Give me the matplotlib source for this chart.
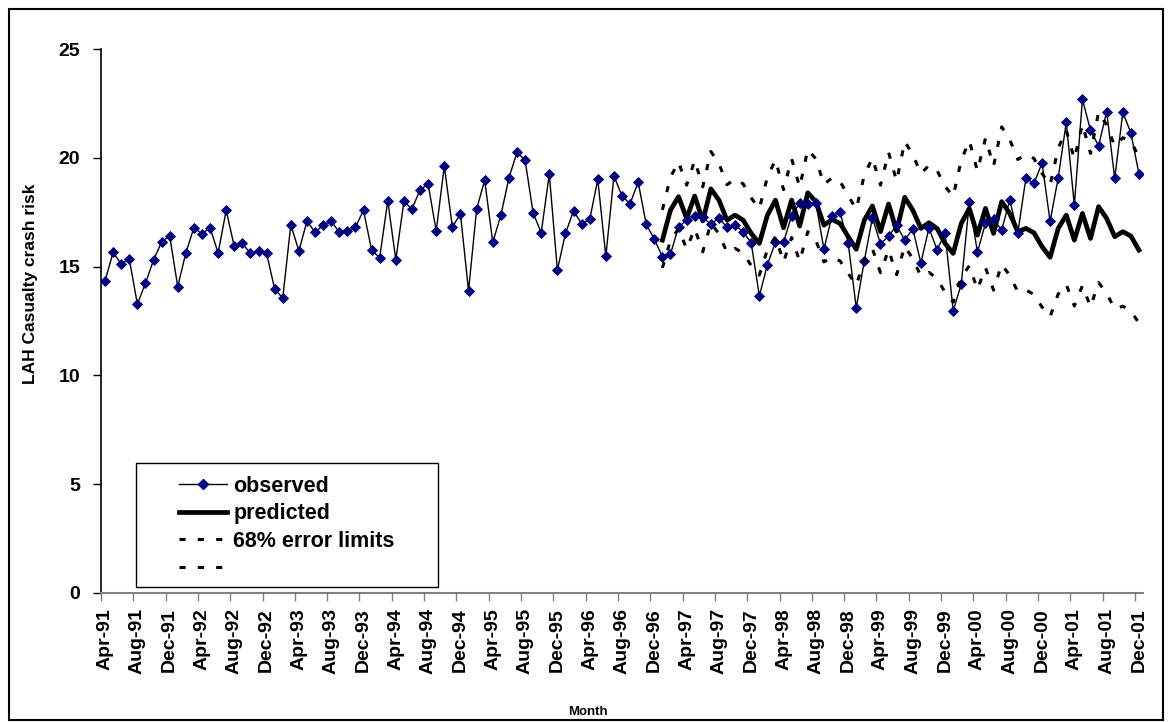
import numpy as np
import matplotlib
matplotlib.use('Agg')
import matplotlib.pyplot as plt
from matplotlib.patches import Rectangle
from matplotlib.lines import Line2D

plt.rcParams['font.family'] = ['Liberation Sans', 'DejaVu Sans']
plt.rcParams['font.weight'] = 'bold'

# monthly data, Apr-91 .. Dec-01
observed = [14.34, 15.66, 15.12, 15.36, 13.28, 14.23, 15.30, 16.13, 16.42, 14.08,
            15.63, 16.79, 16.51, 16.79, 15.63, 17.59, 15.93, 16.07, 15.61, 15.73,
            15.61, 13.97, 13.56, 16.93, 15.72, 17.10, 16.58, 16.91, 17.10, 16.58,
            16.65, 16.82, 17.59, 15.76, 15.41, 18.03, 15.32, 18.00, 17.65, 18.54,
            18.80, 16.64, 19.63, 16.82, 17.43, 13.89, 17.64, 18.98, 16.12, 17.36,
            19.08, 20.26, 19.90, 17.47, 16.56, 19.26, 14.84, 16.53, 17.57, 16.97,
            17.17, 19.01, 15.47, 19.17, 18.26, 17.89, 18.89, 16.95, 16.26, 15.46,
            15.58, 16.82, 17.14, 17.33, 17.27, 16.95, 17.24, 16.81, 16.93, 16.59,
            16.10, 13.65, 15.09, 16.13, 16.13, 17.34, 17.93, 17.86, 17.93, 15.80,
            17.34, 17.50, 16.10, 13.10, 15.27, 17.25, 16.05, 16.40, 16.90, 16.22,
            16.74, 15.17, 16.78, 15.78, 16.53, 12.97, 14.19, 17.96, 15.67, 16.99,
            17.17, 16.68, 18.06, 16.55, 19.06, 18.83, 19.77, 17.08, 19.08, 21.64,
            17.82, 22.70, 21.27, 20.56, 22.13, 19.06, 22.10, 21.15, 19.27]

# forecast starts Jan-97 (month index 69)
pred_start = 69
predicted = [16.22, 17.60, 18.22, 17.22, 18.25, 17.11, 18.58, 18.06, 17.14, 17.37,
             17.14, 16.53, 16.07, 17.37, 18.06, 16.79, 18.06, 16.87, 18.40, 17.99,
             16.91, 17.17, 16.99, 16.38, 15.80, 17.14, 17.79, 16.61, 17.88, 16.64,
             18.19, 17.60, 16.76, 17.02, 16.76, 16.07, 15.61, 16.99, 17.68, 16.45,
             17.68, 16.53, 17.99, 17.45, 16.61, 16.76, 16.56, 15.92, 15.43, 16.76,
             17.37, 16.22, 17.45, 16.30, 17.76, 17.22, 16.38, 16.61, 16.41, 15.76]

upper = [17.61, 19.12, 19.82, 18.75, 19.89, 18.67, 20.30, 19.75, 18.77, 19.04,
         18.81, 18.16, 17.67, 19.12, 19.91, 18.54, 19.96, 18.66, 20.39, 19.96,
         18.78, 19.09, 18.92, 18.27, 17.64, 19.21, 20.00, 18.75, 20.26, 18.93,
         20.76, 20.16, 19.28, 19.66, 19.43, 18.69, 18.23, 19.90, 20.79, 19.40,
         20.91, 19.63, 21.43, 20.85, 19.93, 20.17, 19.98, 19.29, 18.75, 20.45,
         21.28, 19.95, 21.55, 20.21, 22.11, 21.52, 20.55, 20.93, 20.78, 20.03]

lower = [14.94, 16.20, 16.75, 15.82, 16.75, 15.68, 17.01, 16.51, 15.65, 15.84,
         15.62, 15.05, 14.61, 15.78, 16.38, 15.21, 16.34, 15.25, 16.61, 16.21,
         15.22, 15.44, 15.26, 14.69, 14.15, 15.29, 15.83, 14.72, 15.78, 14.63,
         15.94, 15.36, 14.57, 14.74, 14.45, 13.82, 13.37, 14.51, 15.04, 13.95,
         14.95, 13.92, 15.10, 14.60, 13.85, 13.93, 13.72, 13.14, 12.70, 13.74,
         14.18, 13.19, 14.13, 13.15, 14.27, 13.78, 13.05, 13.18, 12.96, 12.40]

month_labels = ['Apr-91', 'Aug-91', 'Dec-91', 'Apr-92', 'Aug-92', 'Dec-92',
                'Apr-93', 'Aug-93', 'Dec-93', 'Apr-94', 'Aug-94', 'Dec-94',
                'Apr-95', 'Aug-95', 'Dec-95', 'Apr-96', 'Aug-96', 'Dec-96',
                'Apr-97', 'Aug-97', 'Dec-97', 'Apr-98', 'Aug-98', 'Dec-98',
                'Apr-99', 'Aug-99', 'Dec-99', 'Apr-00', 'Aug-00', 'Dec-00',
                'Apr-01', 'Aug-01', 'Dec-01']

W, H = 1173, 722
fig = plt.figure(figsize=(W / 100, H / 100), dpi=100)
ax = fig.add_axes([101 / W, 1 - 592.7 / H, (1143 - 101) / W, (592.7 - 49.3) / H])

x_obs = np.arange(len(observed)) + 0.5
x_pred = np.arange(pred_start, pred_start + len(predicted)) + 0.5

ax.plot(x_pred, predicted, color='black', linewidth=3.4, zorder=2)
ax.plot(x_obs, observed, color='black', linewidth=1.0, marker='D', markersize=4.6,
        markerfacecolor='#000080', markeredgecolor='#000080', markeredgewidth=0.6, zorder=3)
dash = (2.0, 4.0)
ax.plot(x_pred, upper, color='black', linewidth=2.2, dashes=dash, zorder=4)
ax.plot(x_pred, lower, color='black', linewidth=2.2, dashes=dash, zorder=4)

ax.set_xlim(0, len(observed))
ax.set_ylim(0, 25)
ax.set_yticks([0, 5, 10, 15, 20, 25])
ax.tick_params(axis='y', labelsize=14, length=6, width=1, pad=9, direction='out')

# tick marks on category boundaries, labels on category centres
ax.set_xticks(np.arange(0, len(observed), 4), minor=True)
ax.set_xticks(np.arange(0, len(observed), 4) + 0.5)
ax.set_xticklabels(month_labels, rotation=90, fontsize=14, fontweight='bold')
ax.tick_params(axis='x', which='major', length=0, pad=11)
ax.tick_params(axis='x', which='minor', length=6, width=1, color='#808080')
for lab in ax.get_yticklabels():
    lab.set_fontweight('bold')

ax.spines['top'].set_visible(False)
ax.spines['right'].set_visible(False)
ax.spines['bottom'].set_color('#808080')
ax.spines['bottom'].set_linewidth(1.5)
ax.spines['left'].set_linewidth(1.2)

fig.text(31 / W, 1 - 284 / H, 'LAH Casualty crash risk', rotation=90,
         ha='center', va='center', fontsize=12.5, fontweight='bold')
fig.text(588 / W, 1 - 712 / H, 'Month', ha='center', va='center',
         fontsize=9.5, fontweight='bold')

# legend
handles = [Line2D([], [], color='black', linewidth=1.0, marker='D', markersize=4.6,
                  markerfacecolor='#000080', markeredgecolor='#000080'),
           Line2D([], [], color='black', linewidth=3.4),
           Line2D([], [], color='black', linewidth=2.2, dashes=dash),
           Line2D([], [], color='black', linewidth=2.2, dashes=dash)]
labels = ['observed', 'predicted', '68% error limits', '']
fig.legend(handles, labels, loc='upper left', bbox_to_anchor=(179 / W, 1 - 476 / H),
           frameon=False, borderpad=0, borderaxespad=0,
           handlelength=2.23, handletextpad=0.3, labelspacing=0.3,
           prop={'weight': 'bold', 'size': 15.5})
fig.add_artist(Rectangle((136 / W, 1 - 587 / H), (438 - 136) / W, (587 - 463) / H,
                         transform=fig.transFigure, fill=False, edgecolor='black',
                         linewidth=1.0))

# chart border
fig.add_artist(Rectangle((9 / W, 2 / H), (1163 - 9) / W, (713 - 2) / H,
                         transform=fig.transFigure, fill=False, edgecolor='black',
                         linewidth=1.5))

fig.savefig('out.png', dpi=100)
